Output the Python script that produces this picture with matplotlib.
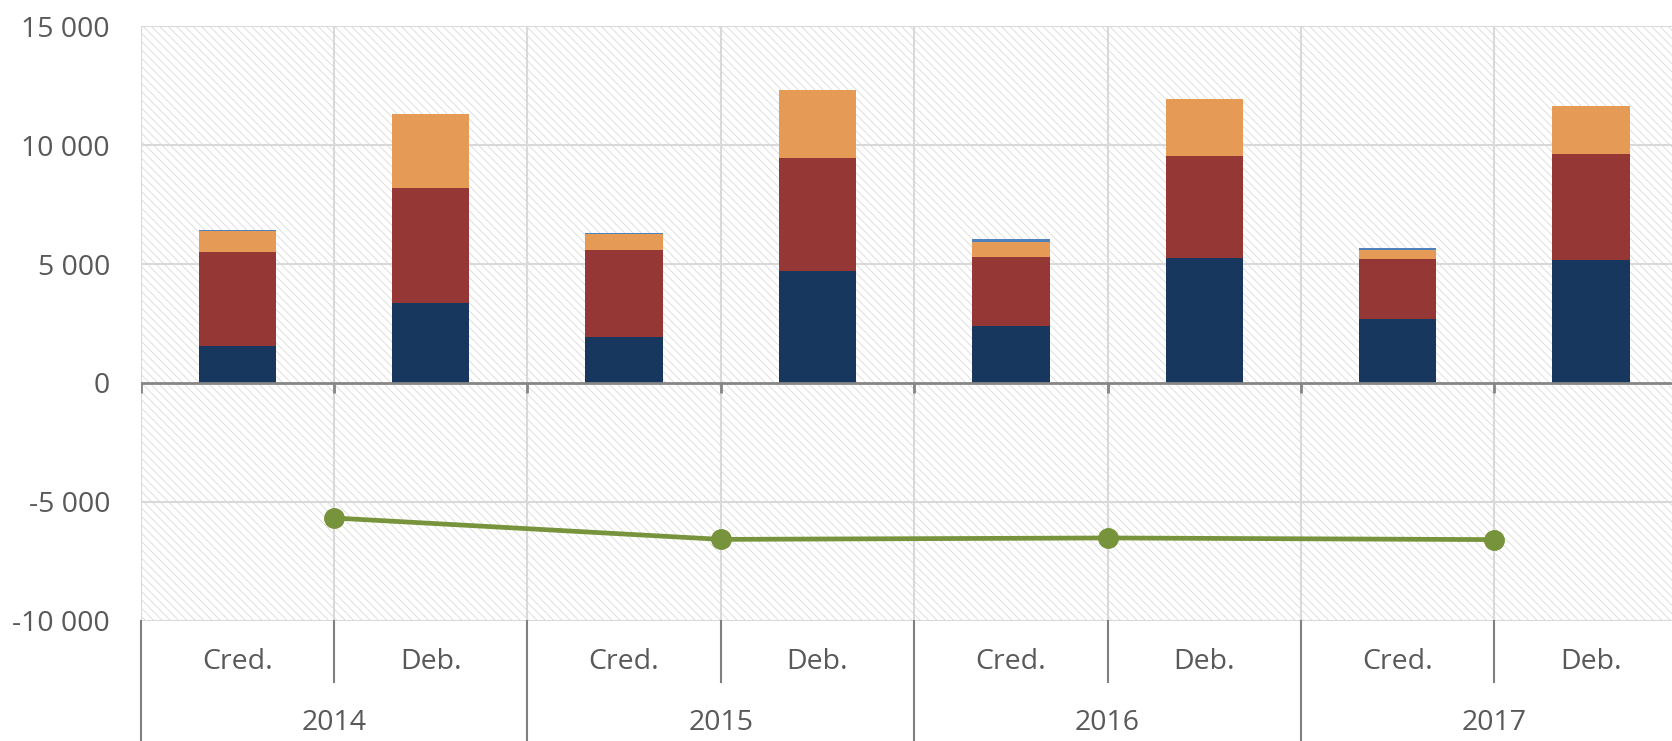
import matplotlib
matplotlib.use("Agg")
import matplotlib.pyplot as plt
from matplotlib.patches import Rectangle
from matplotlib.lines import Line2D
from matplotlib.ticker import FuncFormatter
import matplotlib.transforms as mtransforms

# ---- data ----
years = ["2014", "2015", "2016", "2017"]
sides = ["Cred.", "Deb.", "Cred.", "Deb.", "Cred.", "Deb.", "Cred.", "Deb."]
series1 = [1540, 3380, 1920, 4700, 2380, 5240, 2680, 5190]      # navy
series2 = [3975, 4840, 3660, 4755, 2920, 4295, 2540, 4460]      # dark red
series3 = [895, 3075, 675, 2850, 645, 2400, 390, 1990]          # orange
series4 = [25, 0, 70, 0, 95, 0, 70, 0]                          # light blue
balance = [-5680, -6580, -6520, -6590]                          # green line
y_ticks = [-10000, -5000, 0, 5000, 10000, 15000]

# ---- style ----
plt.rcParams['font.family'] = ['Open Sans', 'DejaVu Sans']
plt.rcParams['hatch.linewidth'] = 0.55
c_navy, c_red, c_orange, c_blue, c_green = "#17375E", "#953735", "#E59A55", "#4F81BD", "#77933C"
grid_c = "#D9D9D9"
txt_c = "#595959"
sep_c = "#808080"
fs = 20.5

W, H = 1672, 741
fig = plt.figure(figsize=(W / 100, H / 100), dpi=100)
ax_left, ax_right = 140.6, 140.6 + 8 * 193.4
ax_top, ax_bot = 26.3, 620.7
ax = fig.add_axes([ax_left / W, (H - ax_bot) / H, (ax_right - ax_left) / W, (ax_bot - ax_top) / H])

n = len(sides)
x = list(range(n))
ax.set_xlim(-0.5, n - 0.5)
ax.set_ylim(y_ticks[0], y_ticks[-1])
ax.set_facecolor("white")

# hatched background
bg = Rectangle((0, 0), 1, 1, transform=ax.transAxes, facecolor="white",
               edgecolor="#D6D6D6", hatch="\\\\\\\\", linewidth=0, zorder=0)
ax.add_patch(bg)

# grid
for yv in y_ticks:
    if yv != 0:
        ax.axhline(yv, color=grid_c, lw=1.5, zorder=1)
bounds = [i - 0.5 for i in range(n + 1)]
for b in bounds:
    ax.axvline(b, color=grid_c, lw=1.5, zorder=1)

# stacked bars
bw = 0.4
b1 = series1
b2 = [a + b for a, b in zip(series1, series2)]
b3 = [a + b for a, b in zip(b2, series3)]
ax.bar(x, series1, bw, color=c_navy, zorder=3)
ax.bar(x, series2, bw, bottom=b1, color=c_red, zorder=3)
ax.bar(x, series3, bw, bottom=b2, color=c_orange, zorder=3)
ax.bar(x, series4, bw, bottom=b3, color=c_blue, zorder=3)

# zero axis line with ticks
ax.axhline(0, color="#868686", lw=2, zorder=4)
ax.vlines(bounds, -420, 0, color="#868686", lw=2, zorder=4)

# balance line at the Cred/Deb boundary of each year
line_x = [2 * i + 0.5 for i in range(len(years))]
ax.plot(line_x, balance, color=c_green, lw=3.4, marker="o", ms=14, zorder=5,
        solid_capstyle="round")

# y axis
ax.set_yticks(y_ticks)
ax.yaxis.set_major_formatter(FuncFormatter(lambda v, p: f"{int(v):,}".replace(",", " ")))
ax.tick_params(axis="y", length=0, pad=22, labelsize=fs, labelcolor=txt_c)
ax.set_xticks([])
for s in ax.spines.values():
    s.set_visible(False)

# category labels
tr = mtransforms.blended_transform_factory(ax.transData, fig.transFigure)
y_side = 1 - 661.7 / H
y_year = 1 - 723 / H
for i, lab in enumerate(sides):
    ax.text(i, y_side, lab, transform=tr, ha="center", va="center", fontsize=fs, color=txt_c)
for j, yr in enumerate(years):
    ax.text(2 * j + 0.5, y_year, yr, transform=tr, ha="center", va="center", fontsize=fs, color=txt_c)

# separators under the axis
y_axis_fig = (H - ax_bot) / H
y_short = (H - 681.7) / H
for b in bounds:
    if round(b + 0.5) % 2 == 1:
        ln = Line2D([b, b], [y_axis_fig, y_short], transform=tr, color=sep_c, lw=1.5, clip_on=False)
    else:
        ln = Line2D([b, b], [y_axis_fig, 0], transform=tr, color=sep_c, lw=1.5, clip_on=False)
    ax.add_line(ln)

fig.savefig("out.png", dpi=100)
